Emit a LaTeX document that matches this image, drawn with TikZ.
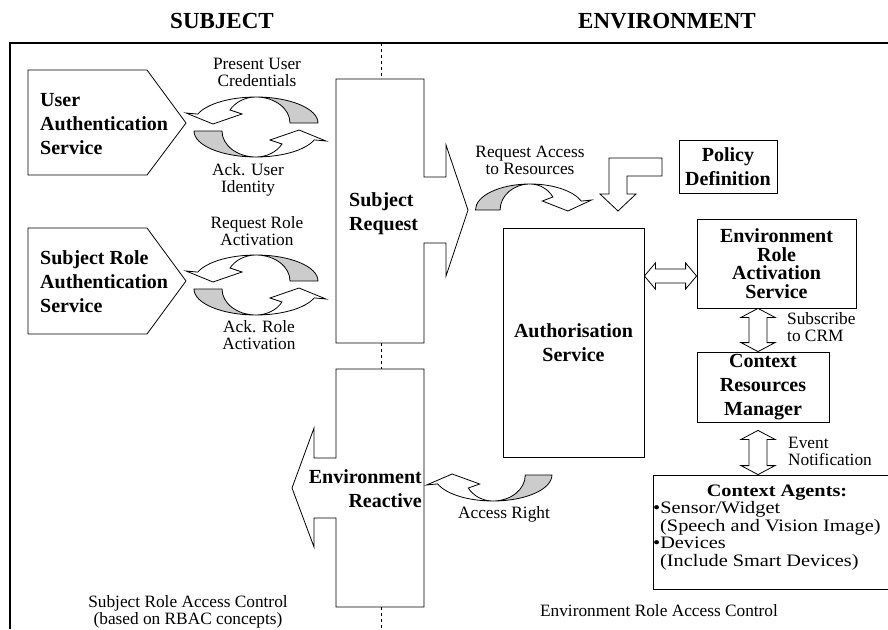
\documentclass[tikz,border=0pt]{standalone}
\usepackage{fontspec}
\setmainfont{Liberation Serif}
\newfontfamily\agentfamily[FakeStretch=1.16]{Liberation Serif}
\usepackage{tikz}
\usetikzlibrary{calc}

\definecolor{bandgray}{RGB}{204,204,204}
\newcommand\titlesize{\fontsize{23}{27}\selectfont\bfseries}
\newcommand\labelsize{\fontsize{20}{24}\selectfont\bfseries}
\newcommand\notesize{\fontsize{17.3}{16.5}\selectfont}
\newcommand\agentsize{\agentfamily\fontsize{17.5}{17.5}\selectfont}

\tikzset{
  blockline/.style={line width=0.8pt},
  boxtext/.style={font=\labelsize, inner sep=0pt, align=center},
  notetext/.style={font=\notesize, inner sep=0pt, align=center},
  twistarrow/.pic={
    \draw[blockline, fill=bandgray] (0,-30) arc[start angle=270, end angle=360, x radius=62, y radius=26] -- (34,-4) arc[start angle=0, end angle=-90, x radius=34, y radius=26] -- cycle;
    \draw[blockline, fill=white] (0,-30) arc[start angle=270, end angle=200, x radius=62, y radius=26] -- (-70,-14) -- (-43,-3) -- (-14,-13) -- (-26,-17) arc[start angle=210, end angle=270, x radius=30, y radius=26] -- cycle;
  },
}
\newcommand\harrows[2]{\draw[blockline] (#1) -- ++(11,-13) -- ++(0,6) -- ($(#2)+(-11,-7)$) -- ++(0,-6) -- (#2) -- ++(-11,13) -- ++(0,-6) -- ($(#1)+(11,7)$) -- ++(0,6) -- cycle;}
\newcommand\varrows[2]{\draw[blockline] (#1) -- ++(17,9) -- ++(-8,0) -- ($(#2)+(9,-9)$) -- ++(8,0) -- (#2) -- ++(-17,-9) -- ++(8,0) -- ($(#1)+(-9,9)$) -- ++(-8,0) -- cycle;}

\begin{document}
\begin{tikzpicture}[x=1pt,y=1pt,yscale=-1,xscale=1]
\useasboundingbox (0,0) rectangle (888,629);
\draw [line width=1.1pt] (10,629) -- (10,43) -- (888,43) ;
\draw [dashed] (381,43) -- (381,79) (381,343) -- (381,369) (381,607) -- (381,629) ;
\node [font=\titlesize, anchor=base] (subjtitle) at (222,28) {SUBJECT};
\node [font=\titlesize, anchor=base] (envtitle) at (667,28) {ENVIRONMENT};

\draw [blockline] (28,70) -- (147,70) -- (186,123) -- (147,175) -- (28,175) -- cycle ;
\node [boxtext, align=left, anchor=base west] (uas) at (40,154) {User\\Authentication\\Service};
\draw [blockline] (28,228) -- (147,228) -- (186,281) -- (147,334) -- (28,334) -- cycle ;
\node [boxtext, align=left, anchor=base west] (sras) at (40,312) {Subject Role\\Authentication\\Service};

\draw [blockline] (336,79) -- (424,79) -- (424,177) -- (446,177) -- (446,145) -- (468,210) -- (446,276) -- (446,243) -- (424,243) -- (424,343) -- (336,343) -- cycle ;
\node [boxtext, align=left, anchor=base west] (sreq) at (349,230) {Subject\\Request};
\draw [blockline] (336,369) -- (424,369) -- (424,607) -- (336,607) -- (336,518) -- (314,518) -- (314,547) -- (292,488) -- (314,428) -- (314,458) -- (336,458) -- cycle ;
\node [boxtext, align=right, anchor=base east] (envr) at (422,507) {Environment\\Reactive};

\pic [transform shape] at (256,127) {twistarrow};
\pic [transform shape,rotate=180] at (256,127) {twistarrow};
\pic [transform shape] at (256,285) {twistarrow};
\pic [transform shape,rotate=180] at (256,285) {twistarrow};
\pic [transform shape,xscale=-0.88] at (530,214) {twistarrow};
\pic [transform shape,xscale=0.95,yscale=-1] at (493,471) {twistarrow};
\node [notetext, anchor=base] (credits) at (257,86) {Present User\\Credentials};
\node [notetext, anchor=base] (ackuser) at (248,192) {Ack. User\\Identity};
\node [notetext, anchor=base] (reqrole) at (257,245) {Request Role\\Activation};
\node [notetext, anchor=base] (ackrole) at (259,349) {Ack. Role\\Activation};
\node [notetext, anchor=base] (reqaccess) at (530,174) {Request Access\\to Resources};
\node [notetext, anchor=base] (accright) at (504,518) {Access Right};

\draw [blockline] (662,158) -- (609,158) -- (609,194) -- (600,194) -- (618,211) -- (636,194) -- (627,194) -- (627,176) -- (662,176) -- cycle ;
\node [draw, blockline, boxtext, minimum width=98pt, minimum height=53pt] (policy) at (728,166.5) {Policy\\Definition};
\node [draw, blockline, boxtext, minimum width=141pt, minimum height=229pt] (auth) at (573.5,342.5) {Authorisation\\Service};
\node [draw, blockline, boxtext, font=\fontsize{20}{18.5}\selectfont\bfseries, minimum width=159pt, minimum height=89pt] (eras) at (776.5,263.5) {Environment\\Role\\Activation\\Service};
\node [draw, blockline, boxtext, minimum width=132pt, minimum height=70pt] (crm) at (763,387) {Context\\Resources\\Manager};
\node [draw, blockline, minimum width=235pt, minimum height=114pt, inner sep=0pt] (agents) at (770.5,532) {};
\node [font=\agentsize\bfseries, inner sep=0pt, anchor=base] (agenthead) at (777,496) {Context Agents:};
\node [font=\agentsize, inner sep=0pt, align=left, anchor=base west] (agentlist) at (653,566) {•Sensor/Widget\\\hspace*{7pt}(Speech and Vision Image)\\•Devices\\\hspace*{7pt}(Include Smart Devices)};

\coordinate (hl) at (auth.east |- 0,276);
\coordinate (hr) at (eras.west |- 0,276);
\harrows{hl}{hr}
\coordinate (v1t) at (eras.south -| 758,0);
\coordinate (v1b) at (crm.north -| 758,0);
\varrows{v1t}{v1b}
\coordinate (v2t) at ($(crm.south -| 758,0)+(0,8)$);
\coordinate (v2b) at (agents.north -| 758,0);
\varrows{v2t}{v2b}
\node [notetext, align=left, anchor=base west] (subscribe) at (787,341) {Subscribe\\to CRM};
\node [notetext, align=left, anchor=base west] (eventnote) at (788,465) {Event\\Notification};

\node [notetext, anchor=base] (srac) at (188,624) {Subject Role Access Control\\(based on RBAC concepts)};
\node [notetext, anchor=base] (erac) at (659,616) {Environment Role Access Control};
\end{tikzpicture}
\end{document}
